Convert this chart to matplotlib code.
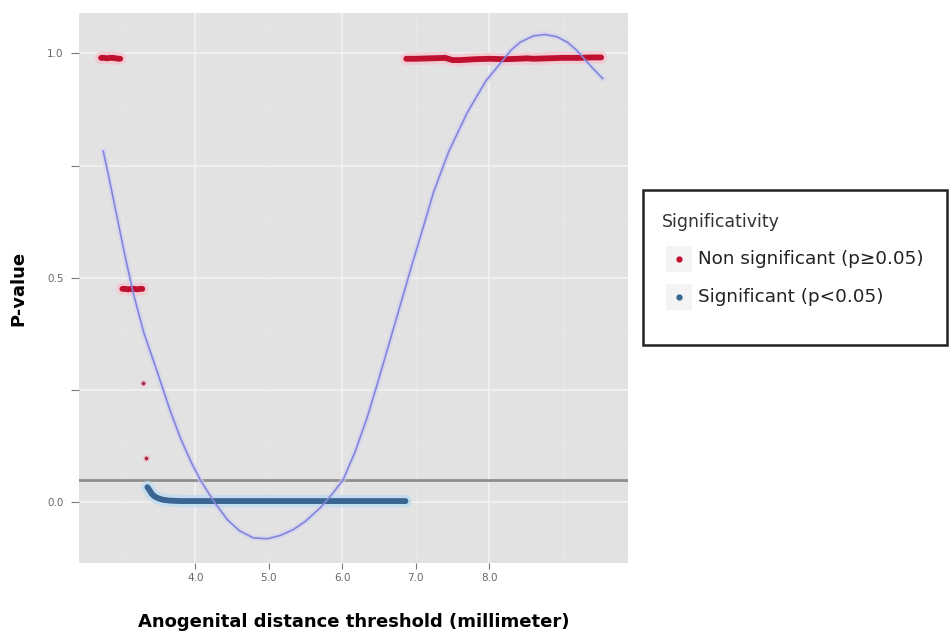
import numpy as np
import matplotlib
matplotlib.use("Agg")
import matplotlib.pyplot as plt
from matplotlib.patches import Rectangle
from matplotlib.lines import Line2D

plt.rcParams['font.family'] = ['DejaVu Sans']

# non significant runs (threshold, p-value)
ns_x_1 = [2.72, 2.76, 2.80, 2.84, 2.88, 2.92, 2.96, 2.98]
ns_p_1 = [0.990, 0.990, 0.989, 0.990, 0.990, 0.989, 0.988, 0.988]
ns_x_2 = [3.01, 3.05, 3.09, 3.13, 3.17, 3.21, 3.25, 3.28]
ns_p_2 = [0.475, 0.475, 0.474, 0.475, 0.475, 0.474, 0.475, 0.475]
ns_x_pts = [3.29, 3.33]
ns_p_pts = [0.266, 0.098]
ns_x_3 = [6.87, 7.00, 7.20, 7.40, 7.50, 7.60, 7.80, 8.00, 8.20, 8.40, 8.50, 8.60, 8.80, 9.00, 9.20, 9.40, 9.52]
ns_p_3 = [0.988, 0.988, 0.989, 0.990, 0.985, 0.985, 0.987, 0.988, 0.987, 0.988, 0.989, 0.988, 0.989, 0.990, 0.990, 0.991, 0.991]

# significant run
sig_x = [3.35, 3.38, 3.41, 3.45, 3.50, 3.56, 3.65, 3.80, 4.20, 4.60, 5.00, 5.40, 5.80, 6.20, 6.60, 6.86]
sig_p = [0.033, 0.026, 0.018, 0.012, 0.008, 0.005, 0.003, 0.002, 0.002, 0.002, 0.002, 0.002, 0.002, 0.002, 0.002, 0.002]

# smooth trend
fit_x = [2.75, 2.85, 2.95, 3.05, 3.16, 3.30, 3.48, 3.65, 3.80, 3.95, 4.07, 4.25, 4.44, 4.60,
         4.79, 4.98, 5.15, 5.33, 5.50, 5.70, 5.85, 6.01, 6.17, 6.34, 6.48, 6.61, 6.72, 6.83,
         6.95, 7.10, 7.24, 7.45, 7.70, 7.95, 8.15, 8.30, 8.42, 8.60, 8.76, 8.92, 9.06, 9.18,
         9.28, 9.40, 9.54]
fit_y = [0.782, 0.705, 0.625, 0.545, 0.464, 0.378, 0.292, 0.208, 0.142, 0.087, 0.049, 0.002,
         -0.040, -0.064, -0.080, -0.082, -0.075, -0.062, -0.043, -0.013, 0.015, 0.049, 0.110,
         0.189, 0.265, 0.338, 0.400, 0.462, 0.530, 0.612, 0.690, 0.782, 0.868, 0.938, 0.978,
         1.008, 1.025, 1.039, 1.042, 1.037, 1.025, 1.008, 0.990, 0.968, 0.944]

threshold = 0.05

red = "#c01030"
blue = "#3a6591"

fig = plt.figure(figsize=(9.52, 6.38), dpi=100)
ax = fig.add_axes([0.083, 0.1176, 0.577, 0.862])
ax.set_facecolor("#e2e2e2")

ax.set_xlim(2.42, 9.89)
ax.set_ylim(-0.136, 1.09)

ax.set_yticks([0, 0.25, 0.5, 0.75, 1.0])
ax.set_yticklabels(["0.0", "", "0.5", "", "1.0"])
ax.set_yticks([0.125, 0.375, 0.625, 0.875, 1.0625, -0.125], minor=True)
ax.set_xticks([4, 5, 6, 7, 8])
ax.set_xticklabels(["4.0", "5.0", "6.0", "7.0", "8.0"])
ax.grid(True, which="major", axis="y", color="#f3f3f3", lw=1.1)
ax.grid(True, which="minor", axis="y", color="#e9e9e9", lw=0.6)
for gx in [4, 6, 8]:
    ax.axvline(gx, color="#f3f3f3", lw=1.1, zorder=0.5)
for gx in [3, 5, 7, 9]:
    ax.axvline(gx, color="#e8e8e8", lw=0.6, zorder=0.5)
ax.set_axisbelow(True)
ax.tick_params(which="major", length=6, color="#777777", labelsize=7.5, labelcolor="#666666", pad=5)
ax.tick_params(axis="x", which="major", length=4, pad=3)
ax.tick_params(which="minor", length=0)
for s in ax.spines.values():
    s.set_visible(False)

ax.axhline(threshold, color="#8e8e8e", lw=2, zorder=2)

# halos
for xs, ps, c in [(ns_x_1, ns_p_1, "#f6c6cf"), (ns_x_2, ns_p_2, "#f6c6cf"),
                  (ns_x_3, ns_p_3, "#f6c6cf"), (sig_x, sig_p, "#bcdcf2")]:
    ax.plot(xs, ps, color=c, lw=9, solid_capstyle="round", zorder=2.5, alpha=0.8)
ax.plot(fit_x, fit_y, color="#cfcff2", lw=4, alpha=0.6, zorder=3)

for xs, ps in [(ns_x_1, ns_p_1), (ns_x_2, ns_p_2), (ns_x_3, ns_p_3)]:
    ax.plot(xs, ps, color=red, lw=4.2, solid_capstyle="round", zorder=4)
ax.scatter(ns_x_pts, ns_p_pts, s=14, color="#a0304a", zorder=4, edgecolors="#f4c0c8", linewidths=1)
ax.plot(sig_x, sig_p, color=blue, lw=4.2, solid_capstyle="round", zorder=4)

ax.plot(fit_x, fit_y, color="#8385dc", lw=1.2, zorder=5)

ax.set_xlabel("Anogenital distance threshold (millimeter)", fontsize=13, fontweight="bold", labelpad=22)
ax.set_ylabel("P-value", fontsize=13, fontweight="bold", labelpad=14)

# legend box
fig.patches.append(Rectangle((643 / 952, 1 - 345 / 638), 304 / 952, 155 / 638,
                             transform=fig.transFigure, fill=False, edgecolor="#222222", lw=1.8))
fig.text(662 / 952, 1 - 222 / 638, "Significativity", fontsize=12.5, color="#333333", va="center")
for yy, col, lab in [(259, red, "Non significant (p\u22650.05)"), (297, blue, "Significant (p<0.05)")]:
    fig.patches.append(Rectangle((666 / 952, 1 - (yy + 13) / 638), 26 / 952, 26 / 638,
                                 transform=fig.transFigure, facecolor="#f4f4f4", edgecolor="none"))
    fig.lines.append(Line2D([679 / 952], [1 - yy / 638], transform=fig.transFigure,
                            marker="o", markersize=3.5, color=col, ls="none"))
    fig.text(698 / 952, 1 - yy / 638, lab, fontsize=13.2, color="#222222", va="center")

plt.savefig("out.png", dpi=100)
